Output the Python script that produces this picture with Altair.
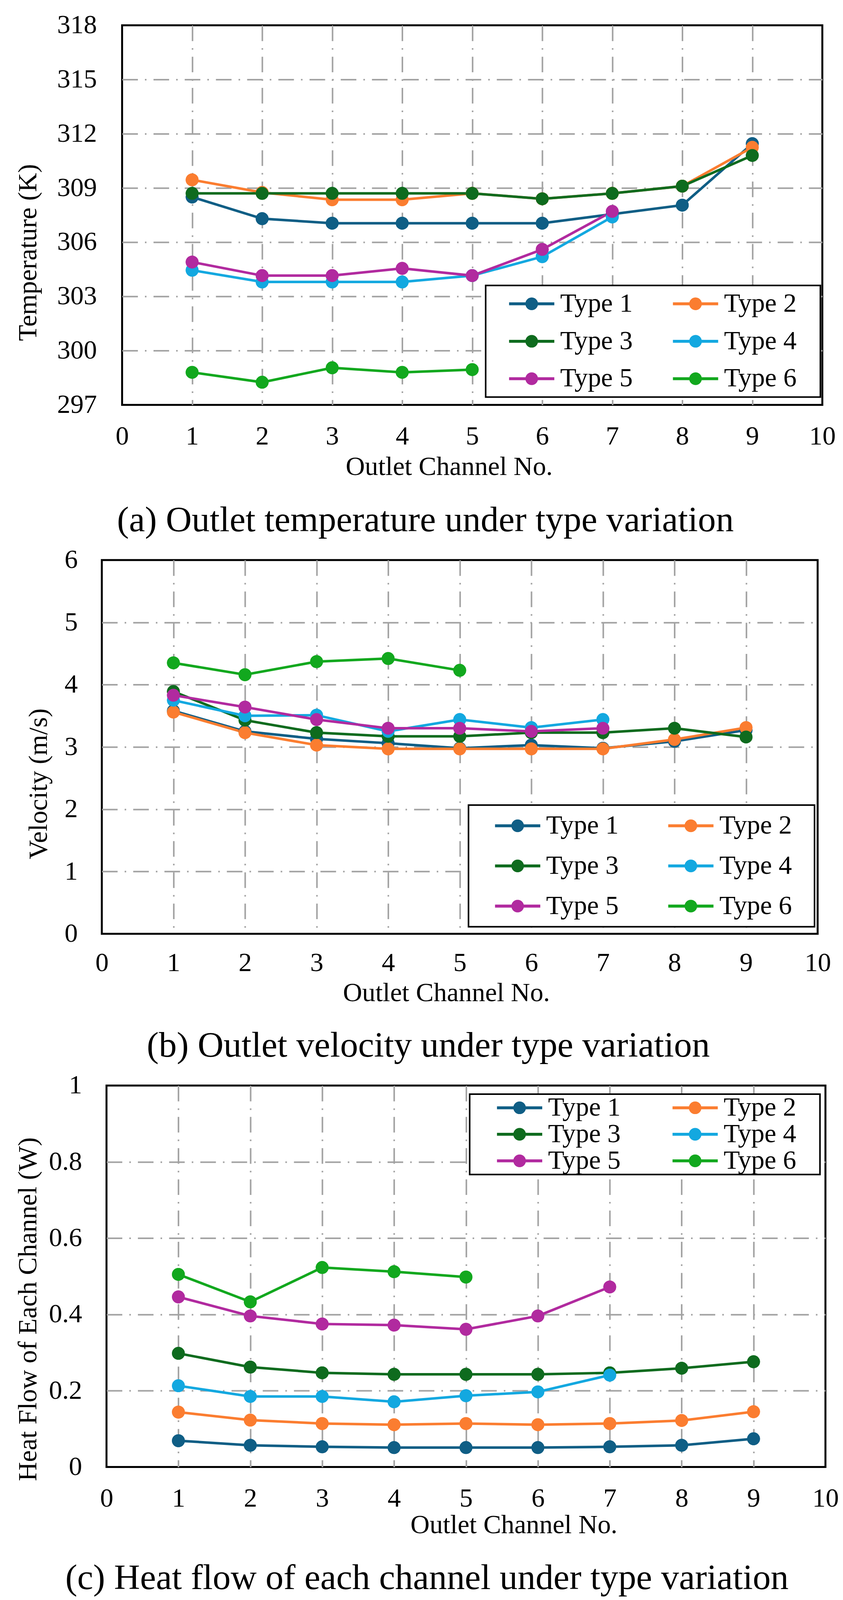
import altair as alt
import pandas as pd

FONT = "Liberation Serif"

channels = [1, 2, 3, 4, 5, 6, 7, 8, 9]
types = ["Type 1", "Type 2", "Type 3", "Type 4", "Type 5", "Type 6"]
colors = ["#0f5e85", "#fb7d30", "#0e6b1e", "#13a8e0", "#b12a9f", "#12a81e"]

# (a) outlet temperature (K)
temp_t1 = [308.5, 307.3, 307.05, 307.05, 307.05, 307.05, 307.55, 308.05, 311.45]
temp_t2 = [309.45, 308.75, 308.35, 308.35, 308.7, 308.4, 308.7, 309.1, 311.25]
temp_t3 = [308.7, 308.7, 308.7, 308.7, 308.7, 308.4, 308.7, 309.1, 310.8]
temp_t4 = [304.45, 303.8, 303.8, 303.8, 304.15, 305.2, 307.4]
temp_t5 = [304.9, 304.15, 304.15, 304.55, 304.15, 305.6, 307.7]
temp_t6 = [298.8, 298.25, 299.05, 298.8, 298.95]

# (b) outlet velocity (m/s)
vel_t1 = [3.58, 3.25, 3.13, 3.06, 2.98, 3.03, 2.98, 3.09, 3.27]
vel_t2 = [3.56, 3.23, 3.03, 2.97, 2.97, 2.97, 2.97, 3.12, 3.31]
vel_t3 = [3.89, 3.43, 3.23, 3.17, 3.17, 3.23, 3.23, 3.30, 3.16]
vel_t4 = [3.75, 3.50, 3.51, 3.25, 3.44, 3.31, 3.44]
vel_t5 = [3.83, 3.64, 3.44, 3.30, 3.30, 3.25, 3.30]
vel_t6 = [4.35, 4.16, 4.37, 4.42, 4.23]

# (c) heat flow of each channel (W)
heat_t1 = [0.069, 0.057, 0.053, 0.051, 0.051, 0.051, 0.053, 0.057, 0.074]
heat_t2 = [0.144, 0.123, 0.114, 0.111, 0.114, 0.111, 0.114, 0.122, 0.145]
heat_t3 = [0.298, 0.262, 0.247, 0.243, 0.243, 0.243, 0.247, 0.259, 0.276]
heat_t4 = [0.213, 0.185, 0.185, 0.171, 0.187, 0.197, 0.241]
heat_t5 = [0.446, 0.396, 0.375, 0.372, 0.361, 0.396, 0.472]
heat_t6 = [0.505, 0.433, 0.523, 0.512, 0.498]

x_ticks = [0, 1, 2, 3, 4, 5, 6, 7, 8, 9, 10]
temp_ticks = [297, 300, 303, 306, 309, 312, 315, 318]
vel_ticks = [0, 1, 2, 3, 4, 5, 6]
heat_ticks = [0, 0.2, 0.4, 0.6, 0.8, 1]

# legend symbol: a short line with a dot on it (drawn twice as wide as its nominal size)
SYMBOL = ("M-2,-0.13L2,-0.13L2,0.13L-2,0.13Z "
          "M0.56,0A0.56,0.56 0 1,1 -0.56,0A0.56,0.56 0 1,1 0.56,0Z")
SYM_NOMINAL = 58


def long_df(series):
    rows = []
    for t, vals in zip(types, series):
        for c, v in zip(channels, vals):
            rows.append({"channel": c, "type": t, "value": v})
    return pd.DataFrame(rows)


def panel(series, ytitle, yticks, yfmt, W, H, p, caption):
    df = long_df(series)
    ymin, ymax = yticks[0], yticks[-1]
    x = alt.X(
        "channel:Q",
        scale=alt.Scale(domain=[0, 10], nice=False, zero=False),
        axis=alt.Axis(
            values=x_ticks, title="Outlet Channel No.", format="d",
            labelPadding=p["xlp"], titlePadding=p["xtp"], titleX=p["xtx"],
            gridOpacity={"condition": {"test": "datum.value <= 0 || datum.value >= 10", "value": 0}, "value": 1},
        ),
    )
    y = alt.Y(
        "value:Q",
        scale=alt.Scale(domain=[ymin, ymax], nice=False, zero=False),
        axis=alt.Axis(
            values=yticks, title=ytitle, format=yfmt,
            labelPadding=p["ylp"], titlePadding=p["ytp"], titleY=p["yty"],
            gridOpacity={"condition": {"test": f"datum.value <= {ymin} || datum.value >= {ymax}", "value": 0}, "value": 1},
        ),
    )
    g = p["lgap"]
    leg = alt.Legend(
        orient="none", legendX=p["lx"], legendY=p["ly"], columns=2, direction="horizontal",
        title=" ", titleOrient="right", titleFontSize=4, titlePadding=p["lr"],
        padding=p["lpad"], rowPadding=p["lrow"], columnPadding=p["lcol"],
        labelFont=FONT, labelFontSize=68, labelColor="black", labelLimit=2000,
        symbolType=SYMBOL, symbolSize=SYM_NOMINAL * SYM_NOMINAL, symbolStrokeWidth=0, symbolOpacity=1,
        symbolOffset=SYM_NOMINAL // 2 + g, labelOffset=39,
        strokeColor="black", fillColor="white", cornerRadius=0,
    )
    color = alt.Color("type:N", scale=alt.Scale(domain=types, range=colors), legend=leg)
    pts_under = alt.Chart(df).mark_circle(size=1090, opacity=1).encode(x=x, y=y, color=color)
    lines = alt.Chart(df).mark_line(strokeWidth=6.5).encode(x=x, y=y, color=color)
    pts = alt.Chart(df).mark_circle(size=1090, opacity=1).encode(x=x, y=y, color=color)
    body = alt.layer(pts_under, lines, pts).properties(
        width=W, height=H,
        title=alt.TitleParams(
            caption, orient="bottom", anchor="middle", frame="bounds", offset=p["cap"],
            font=FONT, fontSize=92, fontWeight="normal", color="black", baseline="top",
        ),
    )
    spacer = alt.Chart(pd.DataFrame({"s": [0]})).mark_point(size=0, opacity=0).properties(
        width=p["sp"], height=10,
        view=alt.ViewBackground(stroke="transparent", strokeWidth=0),
    )
    return alt.hconcat(spacer, body, spacing=0).resolve_scale(color="independent").resolve_legend(color="independent")


pa = panel([temp_t1, temp_t2, temp_t3, temp_t4, temp_t5, temp_t6], "Temperature (K)",
           temp_ticks, "d", 1795, 973,
           dict(xlp=47, xtp=10, xtx=838, ylp=65, ytp=39, yty=582,
                lx=932, ly=667, lgap=42, lr=48, lpad=13, lrow=28, lcol=56, cap=58, sp=28),
           "(a) Outlet temperature under type variation")
pb = panel([vel_t1, vel_t2, vel_t3, vel_t4, vel_t5, vel_t6], "Velocity (m/s)",
           vel_ticks, "d", 1835, 958,
           dict(xlp=41, xtp=9, xtx=883, ylp=62, ytp=31, yty=573,
                lx=940, ly=628, lgap=44, lr=39, lpad=19, lrow=35, lcol=78, cap=56, sp=55),
           "(b) Outlet velocity under type variation")
pc = panel([heat_t1, heat_t2, heat_t3, heat_t4, heat_t5, heat_t6], "Heat Flow of Each Channel (W)",
           heat_ticks, "~g", 1843, 978,
           dict(xlp=47, xtp=0, xtx=1044, ylp=63, ytp=18, yty=573,
                lx=931, ly=22, lgap=64, lr=60, lpad=1, lrow=0, lcol=64, cap=57, sp=28),
           "(c) Heat flow of each channel under type variation")

chart = alt.vconcat(pa, pb, pc, spacing=16).resolve_scale(
    color="independent", x="independent", y="independent",
).resolve_legend(
    color="independent",
).properties(
    padding={"left": 0, "top": 17, "right": 0, "bottom": 0},
).configure_view(
    stroke="black", strokeWidth=5,
).configure_axis(
    labelFont=FONT, labelFontSize=68, labelColor="black",
    titleFont=FONT, titleFontSize=68, titleFontWeight="normal", titleColor="black",
    domain=False, ticks=False, tickSize=0,
    grid=True, gridColor="#a3a3a3", gridWidth=4, gridDash=[40, 18, 4, 18],
    labelFlush=False, labelOverlap=False,
).configure_legend(
    strokeWidth=4,
)

chart.save("out.html", embed_options={"renderer": "svg", "actions": False})
